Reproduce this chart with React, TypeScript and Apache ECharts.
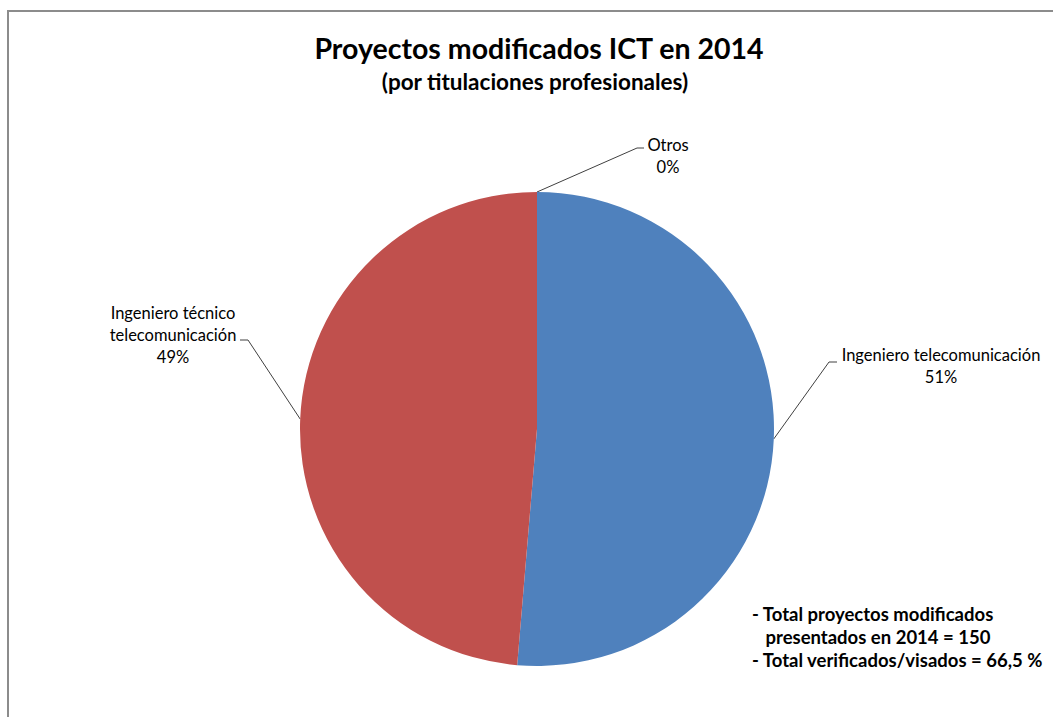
import React, { useEffect, useRef } from "react";
import * as echarts from "echarts";

const categories = ["Ingeniero telecomunicación", "Ingeniero técnico telecomunicación", "Otros"];
const labelNames = ["Ingeniero telecomunicación", "Ingeniero técnico\ntelecomunicación", "Otros"];
const values = [77, 73, 0];
const colors = ["#4F81BD", "#C0504D", "#9BBB59"];
const titleText = "Proyectos modificados ICT en 2014";
const subtitleText = "(por titulaciones profesionales)";
const noteLines = [
  "- Total proyectos modificados",
  "   presentados en 2014 = 150",
  "- Total verificados/visados = 66,5 %",
];

// label layout (text center + elbow point) per slice
const labelPlace = [
  { x: 941, y: 366, elbowX: 829, elbowY: 362, endX: 837 },
  { x: 173, y: 335, elbowX: 248, elbowY: 340, endX: 240 },
  { x: 668, y: 156, elbowX: 637, elbowY: 148, endX: 644 },
];

const FONT = "Lato, 'Open Sans', sans-serif";

export default function App() {
  const ref = useRef<HTMLDivElement>(null);
  useEffect(() => {
    if (!ref.current) return;
    const chart = echarts.init(ref.current, undefined, { renderer: "svg" });
    const cx = 537, cy = 429, r = 237;
    chart.setOption({
      animation: false,
      backgroundColor: "#ffffff",
      title: [
        {
          text: titleText,
          left: 534,
          top: 28,
          textAlign: "center",
          textStyle: { fontFamily: FONT, fontSize: 28.5, fontWeight: "bold", color: "#000" },
        },
        {
          text: subtitleText,
          left: 530,
          top: 65,
          textAlign: "center",
          textStyle: { fontFamily: FONT, fontSize: 22.5, fontWeight: "bold", color: "#000" },
        },
      ],
      graphic: [
        {
          type: "rect",
          shape: { x: 8, y: 11, width: 1200, height: 900 },
          style: { fill: "none", stroke: "#8c8c8c", lineWidth: 2 },
          silent: true,
        },
        ...noteLines.map((t, i) => ({
          type: "text",
          x: 752,
          y: 614 + i * 23,
          style: {
            text: t,
            fontFamily: FONT,
            fontSize: 18.5,
            fontWeight: "bold",
            fill: "#000",
            textAlign: "left",
            textVerticalAlign: "middle",
          },
        })),
      ],
      series: [
        {
          type: "pie",
          center: [cx, cy],
          radius: r,
          startAngle: 90,
          clockwise: true,
          avoidLabelOverlap: false,
          data: categories.map((c, i) => ({
            name: c,
            value: values[i],
            itemStyle: { color: colors[i] },
          })),
          label: {
            show: true,
            position: "outside",
            fontFamily: FONT,
            fontSize: 16.5,
            color: "#000",
            lineHeight: 22,
            align: "center",
            formatter: (p: any) => `${labelNames[p.dataIndex]}\n${Math.round(p.percent)}%`,
          },
          labelLine: {
            show: true,
            lineStyle: { color: "#404040", width: 1 },
          },
          labelLayout: (p: any) => {
            const lp = labelPlace[p.dataIndex];
            let start = p.labelLinePoints && p.labelLinePoints[0];
            if (!start) start = [cx, cy - r];
            return {
              x: lp.x,
              y: lp.y,
              align: "center",
              verticalAlign: "middle",
              labelLinePoints: [start, [lp.elbowX, lp.elbowY], [lp.endX, lp.elbowY]],
            };
          },
          emphasis: { disabled: true },
        },
      ],
    });
    return () => chart.dispose();
  }, []);
  return (
    <div
      ref={ref}
      style={{ position: "absolute", left: 0, top: 0, width: 1053, height: 717 }}
    />
  );
}
